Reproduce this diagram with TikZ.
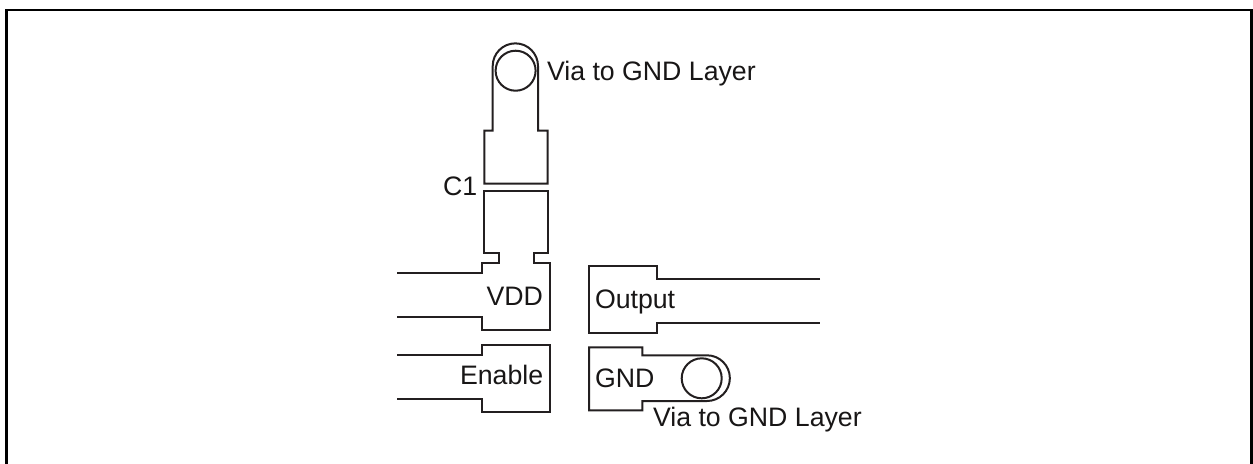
\documentclass[tikz,border=0pt]{standalone}
\usepackage{fontspec}
\setmainfont{Liberation Sans}
\definecolor{ink}{HTML}{231F20}
\tikzset{
  trace/.style={draw=ink,line width=1pt,line join=miter},
  frameline/.style={draw=black,line width=1.2pt},
  lbl/.style={anchor=base west,inner sep=0pt,outer sep=0pt,text=ink!70!black,font=\fontsize{13.35}{15}\selectfont}
}
\begin{document}
\begin{tikzpicture}[x=0.5pt,y=-0.5pt]
\useasboundingbox (0,0) rectangle (1253,463);
\draw[frameline] (6.5,465) -- (6.5,10) -- (1251.5,10) -- (1251.5,465);
% C1 upper pad with via
\draw[trace] (492.7,100) -- (492.7,130.5) -- (484.3,130.5) -- (484.3,183.5) -- (547.5,183.5) -- (547.5,130.5) -- (538,130.5) -- (538,66) arc[start angle=0,end angle=-180,radius=22.65] -- cycle;
\draw[trace] (515.6,70.7) circle[radius=20];
% C1 lower pad + VDD
\draw[trace] (397.3,273.3) -- (482.3,273.3) -- (482.3,263.3) -- (499.3,263.3) -- (499.3,253.3) -- (484.3,253.3) -- (484.3,190.5) -- (547.5,190.5) -- (547.5,253.3) -- (533.7,253.3) -- (533.7,263.3) -- (550,263.3) -- (550,330.3) -- (482.3,330.3) -- (482.3,317.3) -- (397.3,317.3);
% Enable
\draw[trace] (397.3,355.3) -- (482.3,355.3) -- (482.3,345) -- (550,345) -- (550,412.3) -- (482.3,412.3) -- (482.3,399) -- (397.3,399);
% Output
\draw[trace] (820,279.3) -- (656.7,279.3) -- (656.7,265.7) -- (589,265.7) -- (589,332.7) -- (656.7,332.7) -- (656.7,322.7) -- (820,322.7);
% GND with via
\draw[trace] (707,355.3) -- (642.3,355.3) -- (642.3,347.3) -- (589,347.3) -- (589,410.3) -- (642.3,410.3) -- (642.3,401) -- (707,401) arc[start angle=90,end angle=-90,radius=22.85];
\draw[trace] (701.7,378.3) circle[radius=20];
% Labels
\node[lbl] (via1) at (547,80) {Via to GND Layer};
\node[lbl] (c1) at (443,195) {C1};
\node[lbl] (vdd) at (486.5,305) {VDD};
\node[lbl] (enable) at (460,384) {Enable};
\node[lbl] (output) at (595,308) {Output};
\node[lbl] (gnd) at (595,387.5) {GND};
\node[lbl] (via2) at (653,426.7) {Via to GND Layer};
\end{tikzpicture}
\end{document}
